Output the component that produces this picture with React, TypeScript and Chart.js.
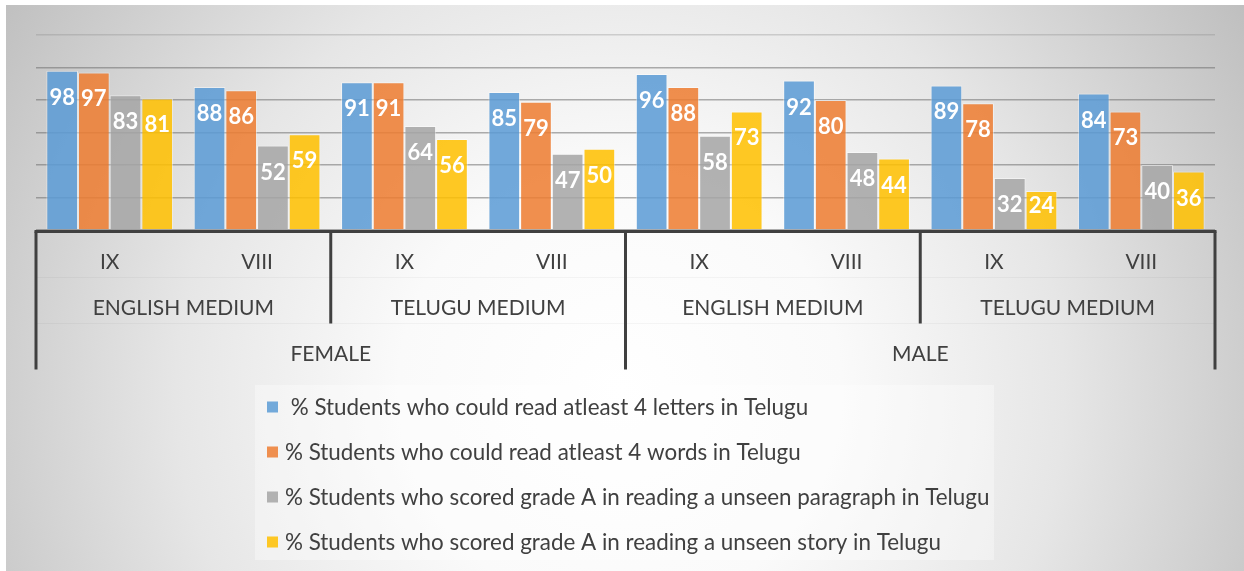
import React, { useEffect, useRef } from 'react';
import { Chart, registerables } from 'chart.js';

Chart.register(...registerables);

const grades = ['IX', 'VIII', 'IX', 'VIII', 'IX', 'VIII', 'IX', 'VIII'];
const media = ['ENGLISH MEDIUM', 'TELUGU MEDIUM', 'ENGLISH MEDIUM', 'TELUGU MEDIUM'];
const genders = ['FEMALE', 'MALE'];

const seriesNames = [
  ' % Students who could read atleast 4 letters in Telugu',
  '% Students who could read atleast 4 words in Telugu',
  '% Students who scored grade A in reading a unseen paragraph in Telugu',
  '% Students who scored grade A in reading a unseen story in Telugu',
];
const lettersValues = [98, 88, 91, 85, 96, 92, 89, 84];
const wordsValues = [97, 86, 91, 79, 88, 80, 78, 73];
const paragraphValues = [83, 52, 64, 47, 58, 48, 32, 40];
const storyValues = [81, 59, 56, 50, 73, 44, 24, 36];

const seriesColors = ['rgba(91,155,213,0.86)', 'rgba(237,125,49,0.86)', 'rgba(165,165,165,0.86)', 'rgba(255,192,0,0.86)'];
const legendColors = ['#5B9BD5', '#ED7D31', '#A5A5A5', '#FFC000'];

const FONT = 'Lato, "Noto Sans", sans-serif';
const TEXT = '#404040';

const backgroundPlugin = {
  id: 'bgPlugin',
  beforeDraw(chart: any) {
    const { ctx, width, height } = chart;
    ctx.save();
    ctx.fillStyle = '#ffffff';
    ctx.fillRect(0, 0, width, height);
    const g = ctx.createRadialGradient(620, 390, 0, 620, 390, 740);
    g.addColorStop(0, '#ffffff');
    g.addColorStop(0.3, '#fafafa');
    g.addColorStop(0.6, '#e6e6e6');
    g.addColorStop(1, '#bebebe');
    ctx.fillStyle = g;
    ctx.fillRect(6, 5, width - 6, height - 5);
    // legend box
    ctx.fillStyle = 'rgba(255,255,255,0.35)';
    ctx.fillRect(255, 385, 739, 175);
    ctx.restore();
  },
};

const axisPlugin = {
  id: 'multiAxis',
  afterDraw(chart: any) {
    const { ctx, chartArea, scales } = chart;
    const x = scales.x;
    const n = grades.length;
    const step = (chartArea.right - chartArea.left) / n;
    const top = chartArea.bottom + 1.5;
    const rowH = 46;
    const textShift = 8;
    const edge = (i: number) => (i < n ? x.getPixelForValue(i) - step / 2 : x.getPixelForValue(n - 1) + step / 2);
    ctx.save();
    // faint row separators
    ctx.strokeStyle = 'rgba(0,0,0,0.035)';
    ctx.lineWidth = 1;
    [1, 2].forEach((r) => {
      ctx.beginPath();
      ctx.moveTo(chartArea.left, top + rowH * r);
      ctx.lineTo(chartArea.right, top + rowH * r);
      ctx.stroke();
    });
    ctx.strokeStyle = TEXT;
    ctx.lineWidth = 3;
    ctx.beginPath();
    ctx.moveTo(edge(0) - 1.5, top);
    ctx.lineTo(edge(n) + 1.5, top);
    ctx.stroke();
    // group boundaries
    const perMedium = n / media.length;
    const perGender = media.length / genders.length;
    for (let k = 0; k <= media.length; k++) {
      const px = edge(k * perMedium);
      const len = k % perGender === 0 ? rowH * 3 : rowH * 2;
      ctx.beginPath();
      ctx.moveTo(px, top);
      ctx.lineTo(px, top + len);
      ctx.stroke();
    }
    ctx.fillStyle = TEXT;
    ctx.textAlign = 'center';
    ctx.textBaseline = 'middle';
    ctx.font = `21px ${FONT}`;
    grades.forEach((g, i) => {
      ctx.fillText(g, x.getPixelForValue(i), top + rowH * 0.5 + textShift);
    });
    media.forEach((m, k) => {
      const cx = (edge(k * perMedium) + edge((k + 1) * perMedium)) / 2;
      ctx.fillText(m, cx, top + rowH * 1.5 + textShift);
    });
    const perG = n / genders.length;
    genders.forEach((gd, k) => {
      const cx = (edge(k * perG) + edge((k + 1) * perG)) / 2;
      ctx.fillText(gd, cx, top + rowH * 2.5 + textShift);
    });
    // legend
    const rows = [407, 452, 497, 542];
    ctx.textAlign = 'left';
    ctx.font = `22.4px ${FONT}`;
    chart.data.datasets.forEach((ds: any, i: number) => {
      const y = rows[i];
      ctx.fillStyle = legendColors[i];
      ctx.globalAlpha = 0.85;
      ctx.fillRect(267, y - 5.5, 11, 11);
      ctx.globalAlpha = 1;
      ctx.fillStyle = TEXT;
      ctx.fillText(ds.label, 285, y + 1);
    });
    ctx.restore();
  },
};

const labelPlugin = {
  id: 'barLabels',
  afterDatasetsDraw(chart: any) {
    const { ctx, chartArea } = chart;
    ctx.save();
    ctx.fillStyle = '#ffffff';
    ctx.textAlign = 'center';
    ctx.textBaseline = 'middle';
    ctx.font = `bold 22px ${FONT}`;
    chart.data.datasets.forEach((ds: any, di: number) => {
      const meta = chart.getDatasetMeta(di);
      meta.data.forEach((bar: any, i: number) => {
        const y = Math.min(bar.y + 27, chartArea.bottom - 24);
        ctx.fillText(String(ds.data[i]), bar.x, y);
      });
    });
    ctx.restore();
  },
};

export default function App() {
  const ref = useRef<HTMLCanvasElement>(null);
  useEffect(() => {
    if (!ref.current) return;
    const values = [lettersValues, wordsValues, paragraphValues, storyValues];
    const chart = new Chart(ref.current, {
      type: 'bar',
      data: {
        labels: grades,
        datasets: values.map((v, i) => ({
          label: seriesNames[i],
          data: v,
          backgroundColor: seriesColors[i],
          borderColor: 'rgba(255,255,255,0.45)',
          borderWidth: 1,
          categoryPercentage: 0.86,
          barPercentage: 1,
        })),
      },
      options: {
        responsive: false,
        animation: false,
        layout: { padding: { left: 36, right: 29, top: 35, bottom: 341 } },
        plugins: { legend: { display: false }, tooltip: { enabled: false } },
        scales: {
          x: { display: false },
          y: {
            min: 0,
            max: 120,
            ticks: { display: false, stepSize: 20 },
            border: { display: false },
            grid: {
              drawTicks: false,
              lineWidth: 1.5,
              color: (c: any) => (c.tick && c.tick.value === 120 ? 'rgba(140,140,140,0.35)' : 'rgba(110,110,110,0.55)'),
            },
          },
        },
      },
      plugins: [backgroundPlugin, labelPlugin, axisPlugin],
    });
    return () => chart.destroy();
  }, []);
  return (
    <div style={{ position: 'absolute', left: 0, top: 0, width: 1244, height: 571 }}>
      <canvas ref={ref} width={1244} height={571} />
    </div>
  );
}
